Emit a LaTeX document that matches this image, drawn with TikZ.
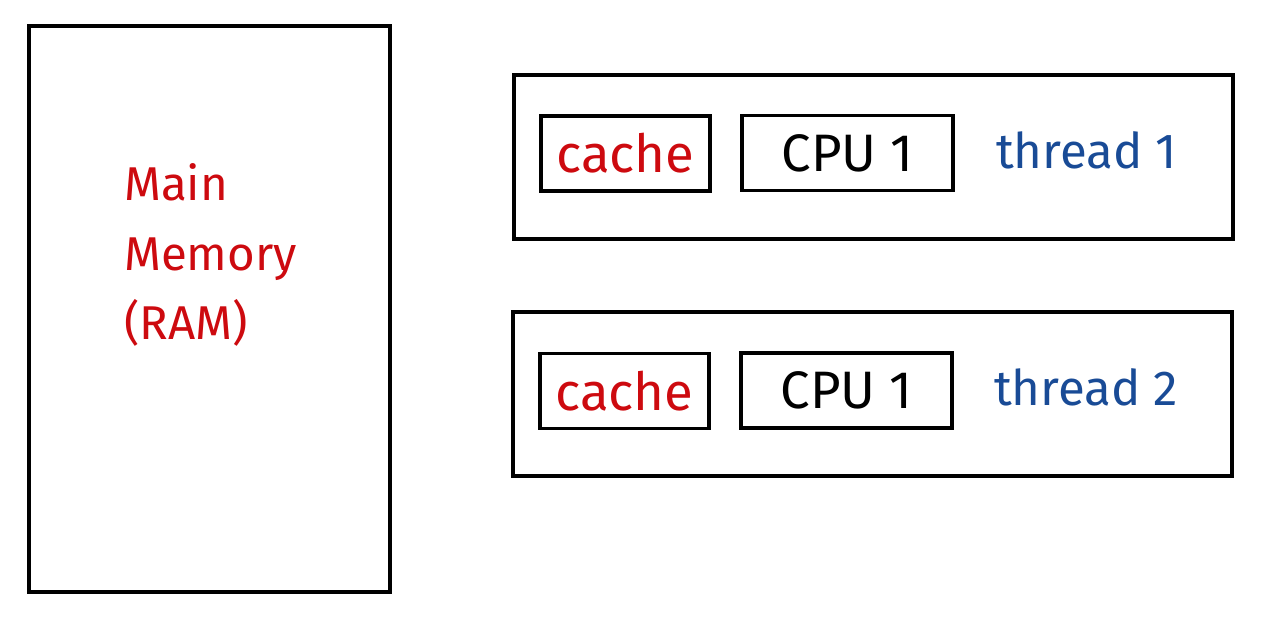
\documentclass[tikz,border=0pt]{standalone}
\usepackage{fontspec}
\setmainfont{Fira Sans}
\definecolor{memred}{RGB}{205, 10, 15}
\definecolor{threadblue}{RGB}{25, 75, 150}
\usetikzlibrary{positioning}

\begin{document}
\begin{tikzpicture}[x=0.02cm, y=-0.02cm,
        outerbox/.style={draw, line width=2pt, minimum width=14.38cm, minimum height=3.28cm},
        unitbox/.style={draw, line width=1.8pt, minimum height=1.5cm, font=\fontsize{30}{30}\selectfont},
        label/.style={font=\fontsize{28}{28}\selectfont, text=threadblue, anchor=west},
      ]
        \useasboundingbox (0,0) rectangle (1280,622);

        % main memory
        \node[draw, line width=2.4pt, minimum width=7.22cm, minimum height=11.32cm] (ram) at (209.5, 309) {};
        \node[anchor=west, align=left, text=memred, font=\fontsize{27}{39.5}\selectfont] (ramtext) at (118, 255)
          {Main\\Memory\\(RAM)};

        % first core
        \node[outerbox] (core1) at (873.5, 157) {};
        \node[unitbox, minimum width=3.38cm, text=memred] (cache1) at (625.5, 153.5) {cache};
        \node[unitbox, minimum width=4.22cm] (cpu1) at (847.5, 153) {CPU 1};
        \node[label] (thread1) at (990, 150) {thread 1};

        % second core
        \node[outerbox] (core2) at (872.5, 394) {};
        \node[unitbox, minimum width=3.38cm, text=memred] (cache2) at (624.5, 391) {cache};
        \node[unitbox, minimum width=4.22cm] (cpu2) at (846.5, 390.5) {CPU 1};
        \node[label] (thread2) at (988, 387) {thread 2};
      \end{tikzpicture}
\end{document}
